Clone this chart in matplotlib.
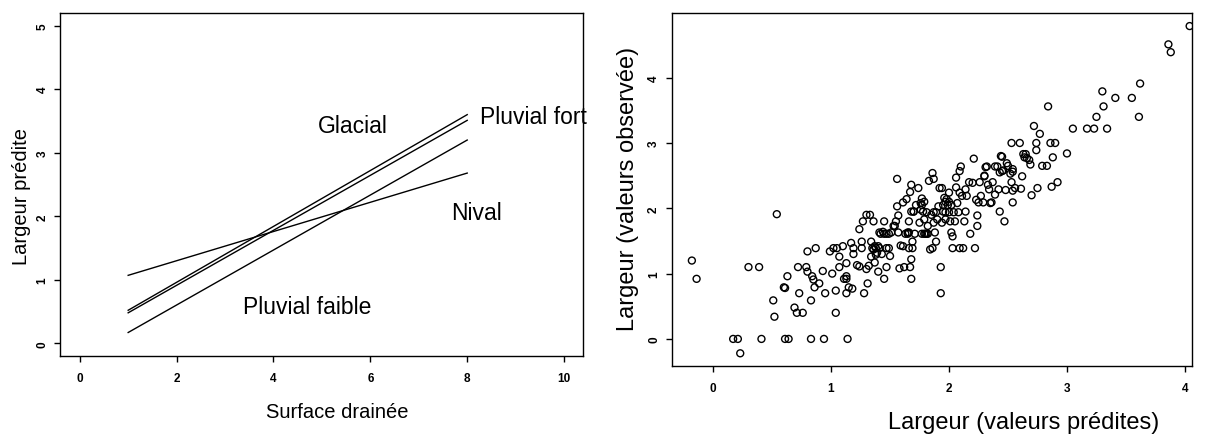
import matplotlib
matplotlib.use("Agg")
import matplotlib.pyplot as plt

plt.rcParams["font.family"] = ["Liberation Sans", "DejaVu Sans"]

# Left panel: predicted width vs drained area, one line per regime
surface = [1, 8]
glacial = [0.52, 3.60]
pluvial_fort = [0.48, 3.51]
pluvial_faible = [0.17, 3.20]
nival = [1.07, 2.68]

regime_labels = ["Glacial", "Pluvial fort", "Nival", "Pluvial faible"]
label_x = [5.64, 9.37, 8.19, 4.69]
label_y = [3.33, 3.47, 1.96, 0.48]

# Right panel: observed vs predicted width
pred = [-0.18, -0.14, 0.30, 0.39, 0.54, 0.51, 0.52, 0.63, 0.60, 0.61, 0.69, 0.71, 0.76, 0.72,
        0.73, 0.79, 0.80, 0.80, 0.83, 0.84, 0.85, 0.87, 0.86, 0.90, 0.93, 0.95, 0.99, 1.02,
        1.01, 1.04, 1.04, 1.05, 1.07, 1.07, 1.10, 1.13, 1.13, 1.13, 1.15, 1.18, 1.17, 1.19,
        1.19, 1.22, 1.24, 1.24, 1.26, 1.26, 1.27, 1.28, 1.30, 1.30, 1.31, 1.33, 1.34, 1.32,
        1.34, 1.35, 1.36, 1.37, 1.38, 1.37, 1.39, 1.40, 1.41, 1.41, 1.42, 1.44, 1.45, 1.45,
        1.47, 1.47, 1.49, 1.50, 1.51, 1.53, 1.54, 1.55, 1.56, 1.56, 1.57, 1.57, 1.58, 1.59,
        1.61, 1.61, 1.62, 1.63, 1.64, 1.65, 1.66, 1.66, 1.66, 1.67, 1.67, 1.68, 1.68, 1.68,
        1.69, 1.69, 1.70, 1.71, 1.72, 1.74, 1.75, 1.76, 1.76, 1.77, 1.77, 1.78, 1.79, 1.80,
        1.81, 1.82, 1.82, 1.83, 1.84, 1.86, 1.86, 1.87, 1.87, 1.87, 1.88, 1.89, 1.90, 1.91,
        1.92, 1.93, 1.93, 1.94, 1.95, 1.96, 1.97, 1.97, 1.98, 1.99, 2.00, 2.00, 2.01, 2.02,
        2.02, 2.03, 2.03, 2.04, 2.05, 2.06, 2.06, 2.07, 2.08, 2.09, 2.09, 2.09, 2.10, 2.11,
        2.12, 2.13, 2.14, 2.14, 2.15, 2.17, 2.18, 2.20, 2.21, 2.22, 2.23, 2.24, 2.24, 2.25,
        2.26, 2.27, 2.29, 2.30, 2.30, 2.31, 2.32, 2.33, 2.34, 2.35, 2.36, 2.37, 2.39, 2.39,
        2.41, 2.42, 2.43, 2.43, 2.44, 2.45, 2.45, 2.46, 2.47, 2.48, 2.49, 2.50, 2.52, 2.53,
        2.53, 2.54, 2.54, 2.54, 2.54, 2.56, 2.60, 2.61, 2.62, 2.63, 2.64, 2.65, 2.66, 2.68,
        2.69, 2.70, 2.72, 2.74, 2.74, 2.75, 2.77, 2.79, 2.83, 2.86, 2.87, 2.88, 2.90, 2.92,
        3.00, 2.84, 3.05, 3.17, 3.23, 3.25, 3.30, 3.31, 3.34, 3.41, 3.55, 3.61, 3.62, 3.86,
        3.88, 4.04, 0.17, 0.21, 0.23, 0.41, 0.61, 0.64, 0.83, 0.94, 1.14, 1.68, 1.11, 1.13,
        1.38, 1.40, 1.36, 1.43, 1.45, 1.47, 1.77, 1.79, 1.81, 1.79, 1.95, 1.97, 2.00, 1.94,
        1.85, 1.89, 1.70, 1.65, 1.49]
obs = [1.20, 0.92, 1.10, 1.10, 1.91, 0.59, 0.34, 0.96, 0.79, 0.78, 0.48, 0.40, 0.40, 1.10,
       0.70, 1.10, 1.03, 1.34, 0.59, 0.96, 0.91, 1.39, 0.79, 0.85, 1.04, 0.70, 1.34, 1.39,
       1.00, 0.74, 0.40, 1.39, 1.10, 1.26, 1.42, 1.16, 0.96, 0.70, 0.79, 0.77, 1.47, 1.30,
       1.39, 1.13, 1.68, 1.11, 1.49, 1.39, 1.80, 0.70, 1.07, 1.90, 0.85, 1.90, 1.49, 1.12,
       1.26, 1.39, 1.80, 1.42, 1.29, 1.17, 1.32, 1.03, 1.39, 1.63, 1.61, 1.64, 0.92, 1.80,
       1.10, 1.39, 1.39, 1.27, 1.63, 1.73, 1.73, 1.80, 2.45, 2.03, 1.89, 1.63, 1.08, 1.43,
       2.09, 1.42, 1.10, 1.61, 2.14, 1.63, 1.80, 1.39, 1.63, 1.10, 2.25, 2.36, 1.95, 1.22,
       1.49, 1.39, 1.95, 1.61, 2.05, 2.31, 1.78, 2.08, 1.98, 2.15, 2.05, 1.95, 1.83, 1.61,
       1.94, 1.73, 1.61, 2.42, 1.37, 1.39, 2.54, 2.45, 1.94, 1.78, 1.63, 1.49, 1.83, 2.03,
       2.31, 0.70, 1.10, 1.78, 2.05, 2.16, 1.94, 1.83, 2.14, 2.05, 2.24, 1.94, 1.80, 1.63,
       2.05, 1.57, 1.39, 1.94, 1.80, 2.32, 2.47, 2.08, 1.94, 2.24, 1.39, 2.57, 2.64, 2.19,
       1.39, 1.80, 2.29, 1.95, 2.19, 2.40, 1.61, 2.39, 2.76, 1.39, 2.13, 1.73, 1.89, 2.09,
       2.40, 2.19, 2.09, 2.50, 2.49, 2.63, 2.64, 2.36, 2.29, 2.08, 2.09, 2.40, 2.21, 2.64,
       2.64, 2.29, 2.55, 1.95, 2.80, 2.57, 2.79, 2.58, 1.80, 2.28, 2.69, 2.65, 2.53, 2.40,
       3.00, 2.56, 2.27, 2.09, 2.60, 2.31, 3.00, 2.30, 2.49, 2.83, 2.78, 2.83, 2.77, 2.74,
       2.67, 2.20, 3.26, 3.00, 2.89, 2.31, 3.14, 2.65, 2.65, 3.00, 2.33, 2.78, 3.00, 2.40,
       2.84, 3.56, 3.22, 3.22, 3.22, 3.40, 3.79, 3.56, 3.22, 3.69, 3.69, 3.40, 3.91, 4.51,
       4.39, 4.79, 0.00, 0.00, -0.22, 0.00, 0.00, 0.00, 0.00, 0.00, 0.00, 0.92, 0.92, 0.92,
       1.39, 1.42, 1.37, 1.30, 1.61, 1.61, 1.61, 1.61, 1.61, 2.10, 1.95, 2.10, 2.10, 2.31,
       1.90, 1.94, 1.95, 1.61, 1.61]

fig = plt.figure(figsize=(12.12, 4.35), dpi=100)
ax1 = fig.add_axes([0.0498, 0.1793, 0.4316, 0.7885])
ax2 = fig.add_axes([0.5543, 0.157, 0.4292, 0.8108])

for line in [glacial, pluvial_fort, pluvial_faible, nival]:
    ax1.plot(surface, line, color="black", linewidth=1.0)
for lab, lx, ly in zip(regime_labels, label_x, label_y):
    ax1.text(lx, ly, lab, fontsize=16.5, ha="center", va="baseline")

ax1.set_xlim(-0.4, 10.4)
ax1.set_ylim(-0.2, 5.2)
ax1.set_xticks([0, 2, 4, 6, 8, 10])
ax1.set_yticks([0, 1, 2, 3, 4, 5])
ax1.set_xlabel("Surface drainée", fontsize=14.5, va="center")
ax1.xaxis.set_label_coords(0.529, -0.163)
ax1.set_ylabel("Largeur prédite", fontsize=14.5, va="center")
ax1.yaxis.set_label_coords(-0.075, 0.467)

ax2.scatter(pred, obs, s=25, facecolors="none", edgecolors="black", linewidths=1.0)
ax2.set_xlim(-0.35, 4.06)
ax2.set_ylim(-0.41, 4.99)
ax2.set_xticks([0, 1, 2, 3, 4])
ax2.set_yticks([0, 1, 2, 3, 4])
ax2.set_xlabel("Largeur (valeurs prédites)", fontsize=17, va="center")
ax2.xaxis.set_label_coords(0.677, -0.160)
ax2.set_ylabel("Largeur (valeurs observée)", fontsize=17, va="center")
ax2.yaxis.set_label_coords(-0.084, 0.504)

for ax in [ax1, ax2]:
    for sp in ax.spines.values():
        sp.set_linewidth(1.0)
    ax.tick_params(axis="both", direction="out", length=4.5, width=1.0,
                   labelsize=8.5)
    ax.tick_params(axis="x", pad=7)
    ax.tick_params(axis="y", pad=4)
    for t in ax.get_xticklabels() + ax.get_yticklabels():
        t.set_fontweight("bold")
    for t in ax.get_yticklabels():
        t.set_rotation(90)
        t.set_va("center")

fig.savefig("out.png", dpi=100)
